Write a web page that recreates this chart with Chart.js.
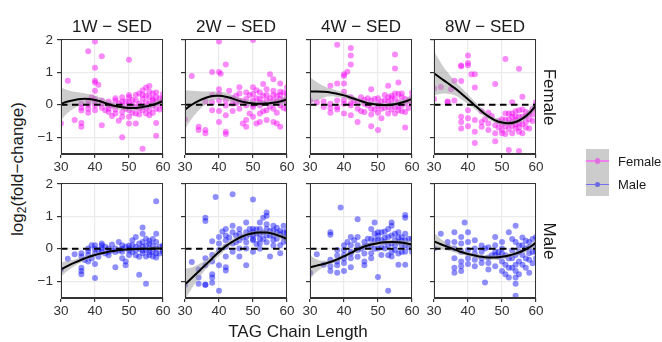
<!DOCTYPE html>
<html><head><meta charset="utf-8">
<script src="https://cdn.jsdelivr.net/npm/chart.js@4.4.1/dist/chart.umd.min.js"></script>
<style>
body{margin:0;width:662px;height:342px;background:#fff;position:relative;overflow:hidden;font-family:'Liberation Sans',Arial,sans-serif;}
canvas{position:absolute;}
.t{position:absolute;white-space:nowrap;color:#1a1a1a;line-height:1;}
.lg{position:absolute;}
</style></head><body>
<script>
const F = "'Liberation Sans', Arial, sans-serif";
const xTicks = [30,40,50,60];
const yTicks = [-1,0,1,2];
const facetTitles = ['1W \u2212 SED','2W \u2212 SED','4W \u2212 SED','8W \u2212 SED'];
const sexLabels = ['Female','Male'];
const fitX = [30,32,34,36,38,40,42,44,46,48,50,52,54,56,58,60];

// ---- Female points ----
const femalePts1W = [[30,-0.58],[32,0.74],[34,-0.47],[36,-0.68],[36,-0.56],[36,-0.09],[36,0.03],[38,0.13],[38,-0.12],[38,0.0],[38,1.65],[39,0.23],[40,1.95],[40,1.14],[40,0.74],[40,0.69],[40,0.43],[40,0.18],[40,-0.02],[40,-0.17],[41,0.62],[42,1.5],[42,-0.63],[42,-0.09],[42,0.03],[42,0.13],[43,-0.17],[44,-0.02],[44,-0.22],[44,-0.12],[45,-0.02],[46,-0.27],[46,-0.15],[46,0.13],[47,-0.49],[48,-1.0],[48,0.23],[48,-0.02],[48,-0.22],[48,-0.37],[49,-0.12],[50,1.39],[50,0.23],[50,0.08],[50,-0.02],[50,-0.17],[50,-0.37],[50,-0.58],[51,-0.02],[52,0.13],[52,-0.58],[52,-0.07],[52,-0.27],[53,0.35],[53,0.03],[54,0.45],[54,0.18],[54,-0.02],[54,-0.17],[54,-1.36],[55,0.53],[55,0.28],[55,0.08],[55,-0.09],[56,0.58],[56,0.23],[56,0.03],[56,-0.17],[56,-0.32],[57,0.13],[57,-0.02],[57,-0.25],[58,0.23],[58,0.08],[58,-0.12],[58,-0.56],[58,-0.96],[59,0.03],[60,0.33],[60,0.13],[60,-0.07],[47,0.05],[49,0.1],[51,-0.25],[53,-0.12],[55,-0.27],[57,0.18],[59,-0.15],[46,0.2],[44,0.1],[52,0.3],[56,0.4],[58,0.38],[60,0.2],[54,0.3],[50,0.3],[48,0.1],[36,-0.18],[38,-0.25],[40,0.1],[53,-0.3],[57,0.35],[59,0.2],[45,-0.35],[51,0.15]];
const femalePts2W = [[30,-0.45],[32,0.89],[34,-0.68],[34,-0.78],[36,-0.78],[36,-0.88],[38,1.01],[38,0.08],[38,-0.17],[40,1.95],[40,1.01],[40.5,0.96],[40,0.48],[40,0.33],[40,0.13],[40,-0.19],[40,-0.53],[42,1.24],[42,-0.83],[42,-0.9],[42,0.13],[42,-0.02],[42,-0.32],[43,0.43],[44,0.03],[44,-0.19],[45,0.28],[46,0.54],[46,0.13],[46,-0.12],[47,-0.58],[48,0.18],[48,-0.02],[48,-0.68],[48,-0.47],[49,-0.27],[50,0.54],[50,0.33],[50,0.13],[50,-0.07],[50,-0.37],[50,2.0],[51,-0.58],[52,0.38],[52,0.18],[52,-0.02],[52,-0.27],[52,-0.53],[53,0.64],[53,0.28],[54,0.48],[54,0.13],[54,-0.17],[54,-0.47],[55,0.94],[56,0.79],[56,0.43],[56,0.13],[56,-0.12],[56,-0.53],[57,-0.58],[57,0.28],[58,0.66],[58,0.18],[58,-0.02],[58,-0.68],[59,0.38],[59,0.13],[60,0.54],[60,0.23],[60,0.03],[44,0.2],[46,0.35],[48,0.38],[50,0.0],[51,0.2],[52,0.08],[53,0.05],[54,0.3],[55,0.2],[55,-0.05],[56,0.3],[57,0.1],[58,0.4],[59,-0.1],[60,-0.15],[47,0.1],[49,0.3],[45,0.05],[53,-0.2],[57,-0.25],[51,0.45],[58,0.3],[60,0.35],[38,0.3],[36,0.1]];
const femalePts4W = [[30,0.13],[32,0.08],[34,-0.07],[36,0.59],[36,0.03],[36,-0.25],[38,1.85],[38,0.66],[38,0.13],[38,-0.07],[40,0.94],[40,0.66],[40,0.89],[41,1.02],[40,0.03],[40,-0.27],[42,1.75],[42,1.52],[42,1.24],[42,0.23],[42,-0.02],[42,-0.32],[43,0.13],[44,-0.12],[44,-0.53],[45,0.23],[46,0.03],[46,-0.22],[47,-0.02],[48,0.48],[48,0.13],[48,-0.12],[48,-0.66],[49,0.18],[50,0.03],[50,-0.25],[50,-0.78],[51,-0.12],[51,-0.42],[52,0.13],[53,0.59],[53,0.23],[53,-0.07],[53,-0.27],[54,0.28],[54,0.03],[55,1.55],[55,1.12],[55,0.18],[55,-0.07],[55,-0.27],[56,0.69],[56,0.33],[56,0.08],[56,-0.17],[57,0.23],[57,-0.02],[58,-0.7],[58,0.18],[58,-0.22],[59,0.13],[60,0.23],[60,0.03],[36,-0.1],[38,-0.15],[40,0.15],[42,0.05],[44,0.1],[46,0.15],[48,-0.3],[50,0.2],[50,-0.05],[52,-0.1],[52,0.3],[54,-0.15],[54,0.2],[56,-0.05],[57,0.35],[58,0.05],[59,-0.1],[60,0.38],[51,0.1],[53,0.1],[55,0.35],[57,-0.2],[49,-0.15],[47,0.2],[45,-0.2],[34,0.1],[40,0.4]];
const femalePts8W = [[30,0.5],[30,0.18],[32,0.55],[34,0.1],[34,0.08],[35,0.48],[36,0.13],[36,0.74],[38,1.19],[38,1.21],[38,0.73],[38,-0.37],[38,-0.53],[38,-0.73],[40,1.52],[40,1.29],[40,1.22],[40,-0.17],[40,-0.42],[40,-0.66],[41,0.94],[42,0.94],[42,0.53],[42,-0.83],[42,-0.47],[42,-1.18],[44,-0.53],[44,-0.68],[46,-0.58],[46,-0.78],[48,0.64],[48,-0.63],[48,-0.88],[48,-1.13],[50,-0.78],[50,-0.88],[51,1.41],[51,-0.66],[51,-0.47],[52,-0.58],[52,-1.4],[52,-0.27],[53,-0.37],[53,-0.27],[53,0.08],[53,-0.88],[54,-0.47],[54,-0.73],[55,1.11],[55,-0.17],[55,-0.58],[55,-1.43],[55,-0.83],[56,0.25],[56,-0.37],[56,-0.88],[57,-0.22],[57,-0.53],[58,-0.27],[58,-0.73],[59,-0.12],[60,-0.02],[60,0.08],[54,-0.37],[51,-0.27],[53,-0.53],[55,-0.37],[49,-0.5],[50,-0.45],[52,-0.75],[54,-0.6],[56,-0.6],[57,-0.35],[58,-0.45],[59,-0.3],[60,-0.15],[47,-0.35],[45,-0.45],[49,-0.7],[51,-0.9],[53,-0.65],[55,-0.7],[57,-0.7],[59,-0.5],[50,-0.6],[52,-0.45],[54,-0.2],[56,-0.15],[44,-0.2],[46,-0.25]];

// ---- Male points ----
const malePts1W = [[30,-0.64],[32,-0.31],[34,-0.17],[36,-0.14],[36,-0.24],[36,-0.59],[36,-0.69],[36,-0.79],[38,0.01],[38,-0.07],[38,-0.19],[38,-0.39],[39,0.11],[40,0.11],[40,-0.01],[40,-0.14],[40,-0.47],[40,-0.9],[41,-0.04],[42,0.11],[42,0.01],[42,-0.09],[42,0.16],[43,0.06],[44,0.01],[44,-0.09],[45,0.13],[46,0.01],[46,-0.57],[47,0.21],[48,0.11],[48,-0.09],[48,-0.29],[49,0.06],[49,-0.39],[49,-0.51],[50,0.01],[50,-0.19],[51,0.11],[51,0.26],[52,0.06],[52,0.36],[52,-0.04],[53,0.16],[53,-0.8],[54,0.66],[54,0.46],[54,0.21],[54,0.06],[54,-0.14],[55,0.31],[55,-0.04],[55,-0.24],[56,0.16],[56,0.01],[56,-0.19],[57,0.11],[57,-0.09],[57,-0.24],[55,-1.08],[58,0.46],[58,0.21],[58,0.01],[58,-0.14],[58,-0.27],[58,1.47],[59,0.06],[60,0.11],[60,-0.04],[44,-0.2],[46,-0.1],[47,-0.05],[48,0.0],[50,0.1],[51,-0.1],[52,-0.2],[53,0.0],[54,-0.05],[55,0.1],[56,-0.1],[57,0.3],[59,-0.15],[60,0.05],[45,-0.05],[43,-0.15],[41,-0.25],[39,-0.3],[37,-0.35],[50,-0.05],[56,0.25],[53,-0.25],[60,-0.1]];
const malePts2W = [[30,-1.12],[32,-0.41],[34,-0.64],[34,-0.89],[34,-1.08],[36,0.96],[36,0.86],[36,-0.29],[36,-0.51],[36,-1.1],[36,-1.12],[38,0.23],[38,-0.19],[38,-0.39],[38,-0.79],[38,-0.89],[38,-1.05],[39,1.6],[40,0.36],[40,0.16],[40,-0.04],[40,-0.51],[40,-1.3],[41,0.53],[42,0.61],[42,0.41],[42,0.26],[42,0.06],[42,-0.24],[42,-0.57],[42,-0.67],[44,1.68],[44,0.71],[44,0.51],[44,0.16],[44,-0.09],[45,0.41],[46,0.61],[46,0.46],[46,0.26],[46,0.01],[46,-0.24],[48,0.81],[48,0.51],[48,0.36],[48,0.01],[48,-0.51],[49,0.61],[50,1.52],[50,0.61],[50,0.51],[50,0.41],[50,0.26],[50,-0.09],[51,0.46],[52,0.81],[52,0.61],[52,0.46],[52,0.31],[52,0.16],[53,0.96],[54,1.12],[54,1.02],[54,0.76],[54,0.61],[54,0.41],[55,-0.24],[56,0.71],[56,0.56],[56,0.41],[56,0.26],[57,0.51],[57,0.31],[58,0.11],[58,-0.14],[59,0.71],[59,0.51],[59,0.36],[59,0.21],[60,0.46],[60,0.36],[48,0.2],[50,0.3],[51,0.6],[53,0.5],[53,0.3],[55,0.55],[55,0.4],[57,0.65],[58,0.45],[60,0.25],[47,0.35],[45,0.2],[43,0.35],[49,0.45],[52,0.0],[56,0.1],[58,0.55],[54,0.2],[51,0.15],[60,0.55]];
const malePts4W = [[30,-0.74],[32,-0.17],[34,-0.49],[36,0.51],[36,0.43],[36,-0.34],[36,-0.54],[36,-0.69],[38,-0.04],[38,-0.21],[38,-0.39],[38,-0.51],[38,-0.74],[39,1.27],[40,0.11],[40,-0.04],[40,-0.19],[40,-0.44],[40,-0.69],[41,0.21],[42,0.36],[42,0.11],[42,-0.09],[42,-0.29],[42,-0.57],[43,0.26],[44,0.91],[44,0.36],[44,0.11],[44,-0.04],[46,0.21],[46,0.06],[46,-0.39],[46,-0.51],[47,0.31],[48,0.61],[48,0.11],[48,-0.14],[48,-0.29],[49,0.81],[49,0.46],[49,0.26],[50,0.51],[50,0.26],[50,0.01],[50,-0.87],[51,0.51],[51,0.26],[51,-0.19],[52,0.53],[52,0.21],[52,0.01],[53,-1.3],[53,0.61],[53,0.36],[54,0.81],[54,0.71],[54,0.41],[54,0.16],[54,-0.09],[54,-0.24],[55,0.46],[55,0.26],[55,-0.04],[56,0.51],[56,0.21],[56,-0.49],[57,0.36],[57,0.11],[58,1.04],[58,0.96],[58,0.46],[58,0.26],[58,0.11],[58,-0.09],[58,-0.49],[59,0.31],[60,0.11],[60,-0.09],[45,0.0],[47,0.1],[49,0.0],[51,0.05],[53,0.1],[55,0.1],[57,0.25],[59,0.05],[52,0.35],[56,0.35],[50,0.4],[48,0.3],[46,-0.15],[44,-0.25],[42,-0.15],[40,-0.3],[56,-0.15],[60,0.3],[57,-0.1],[53,-0.2]];
const malePts8W = [[30,0.01],[32,0.46],[34,0.21],[34,0.06],[36,0.51],[36,0.21],[36,0.01],[36,-0.29],[36,-0.74],[36,-0.59],[38,0.36],[38,0.16],[38,-0.09],[38,-0.39],[38,-0.54],[38,-0.69],[39,0.81],[40,0.51],[40,0.21],[40,-0.04],[40,-0.29],[40,-0.47],[42,0.26],[42,-0.34],[42,-0.54],[42,0.01],[44,-0.09],[44,-0.29],[44,-0.44],[45,-1.04],[45,0.01],[46,-0.27],[46,-0.44],[46,-0.64],[48,0.36],[48,0.11],[48,-0.19],[48,-0.54],[49,-0.24],[50,0.01],[50,-0.39],[50,-0.69],[51,-0.49],[51,-0.79],[52,-0.59],[52,-0.89],[53,-0.29],[53,-0.59],[54,0.21],[54,-0.19],[54,-0.49],[54,-0.69],[54,-0.89],[55,-0.09],[55,-0.39],[55,-0.79],[56,0.11],[56,-0.19],[56,-0.49],[52,0.51],[57,0.01],[57,-0.59],[58,0.21],[58,-0.14],[58,-0.34],[58,-0.74],[54,-1.45],[54,-1.08],[60,0.11],[60,0.36],[60,-0.09],[60,-0.29],[54,0.71],[50,0.21],[48,-0.09],[47,-0.2],[49,-0.1],[51,-0.2],[53,-0.05],[55,0.1],[57,0.25],[59,0.3],[59,-0.1],[56,0.35],[58,0.05],[52,-0.3],[50,-0.15],[46,0.05],[44,0.1],[42,-0.15],[53,0.3],[57,-0.3],[59,-0.45]];

// ---- Smooth fits (read at fitX) ----
const femaleFit1W = [0.03,0.1,0.15,0.18,0.18,0.15,0.09,0.02,-0.04,-0.08,-0.1,-0.1,-0.07,-0.03,0.03,0.12];
const femaleUp1W  = [0.53,0.45,0.40,0.37,0.33,0.28,0.21,0.12,0.05,0.0,-0.02,-0.02,0.01,0.05,0.12,0.24];
const femaleLo1W  = [-0.47,-0.25,-0.10,-0.01,0.03,0.02,-0.03,-0.08,-0.13,-0.16,-0.18,-0.18,-0.15,-0.11,-0.06,0.0];
const femaleFit2W = [-0.15,0.0,0.12,0.21,0.27,0.28,0.25,0.19,0.12,0.07,0.04,0.03,0.04,0.06,0.1,0.16];
const femaleUp2W  = [0.45,0.43,0.42,0.41,0.41,0.4,0.37,0.3,0.22,0.16,0.12,0.11,0.12,0.15,0.2,0.29];
const femaleLo2W  = [-0.75,-0.43,-0.18,0.01,0.13,0.16,0.13,0.08,0.02,-0.02,-0.04,-0.05,-0.04,-0.03,0.0,0.03];
const femaleFit4W = [0.41,0.41,0.4,0.38,0.34,0.29,0.22,0.15,0.08,0.03,0.0,-0.01,0.0,0.04,0.1,0.18];
const femaleUp4W  = [0.85,0.7,0.58,0.5,0.44,0.38,0.3,0.22,0.15,0.1,0.07,0.06,0.07,0.12,0.19,0.3];
const femaleLo4W  = [0.05,0.12,0.22,0.26,0.24,0.2,0.14,0.08,0.01,-0.04,-0.07,-0.08,-0.07,-0.04,0.01,0.06];
const femaleFit8W = [0.97,0.82,0.67,0.52,0.35,0.17,-0.02,-0.2,-0.36,-0.48,-0.55,-0.57,-0.53,-0.43,-0.26,-0.02];
const femaleUp8W  = [1.65,1.3,1.0,0.75,0.53,0.32,0.1,-0.1,-0.27,-0.4,-0.47,-0.49,-0.45,-0.34,-0.15,0.12];
const femaleLo8W  = [0.29,0.34,0.34,0.29,0.17,0.02,-0.14,-0.3,-0.45,-0.56,-0.63,-0.65,-0.61,-0.52,-0.37,-0.16];
const maleFit1W = [-0.64,-0.53,-0.43,-0.34,-0.26,-0.19,-0.14,-0.09,-0.06,-0.03,-0.02,-0.01,0.0,0.0,0.01,0.01];
const maleUp1W  = [-0.42,-0.38,-0.33,-0.27,-0.2,-0.14,-0.09,-0.05,-0.02,0.01,0.02,0.03,0.04,0.05,0.06,0.08];
const maleLo1W  = [-0.86,-0.68,-0.53,-0.41,-0.32,-0.24,-0.19,-0.13,-0.1,-0.07,-0.06,-0.05,-0.04,-0.05,-0.04,-0.06];
const maleFit2W = [-1.1,-0.9,-0.7,-0.5,-0.3,-0.1,0.08,0.22,0.34,0.43,0.48,0.5,0.5,0.46,0.39,0.3];
const maleUp2W  = [-0.62,-0.58,-0.48,-0.35,-0.18,0.02,0.18,0.31,0.42,0.5,0.55,0.57,0.57,0.54,0.49,0.43];
const maleLo2W  = [-1.58,-1.22,-0.92,-0.65,-0.42,-0.22,-0.02,0.13,0.26,0.36,0.41,0.43,0.43,0.38,0.29,0.17];
const maleFit4W = [-0.57,-0.52,-0.47,-0.41,-0.33,-0.23,-0.13,-0.02,0.07,0.13,0.17,0.2,0.21,0.2,0.17,0.13];
const maleUp4W  = [-0.2,-0.33,-0.37,-0.34,-0.26,-0.16,-0.06,0.05,0.14,0.2,0.24,0.27,0.28,0.28,0.26,0.25];
const maleLo4W  = [-0.94,-0.71,-0.57,-0.48,-0.4,-0.3,-0.2,-0.09,0.0,0.06,0.1,0.13,0.14,0.12,0.08,0.01];
const maleFit8W = [0.23,0.14,0.06,-0.02,-0.1,-0.16,-0.21,-0.25,-0.27,-0.27,-0.25,-0.21,-0.15,-0.07,0.04,0.19];
const maleUp8W  = [0.5,0.3,0.17,0.07,-0.02,-0.09,-0.14,-0.18,-0.2,-0.2,-0.18,-0.14,-0.08,0.01,0.12,0.3];
const maleLo8W  = [-0.04,-0.02,-0.05,-0.11,-0.18,-0.23,-0.28,-0.32,-0.34,-0.34,-0.32,-0.28,-0.22,-0.15,-0.04,0.08];

const femaleColor = 'rgba(245,0,245,0.46)';
const maleColor = 'rgba(0,0,245,0.44)';

const panels = [
  {row:0,col:0,pts:femalePts1W,fit:femaleFit1W,up:femaleUp1W,lo:femaleLo1W,color:femaleColor},
  {row:0,col:1,pts:femalePts2W,fit:femaleFit2W,up:femaleUp2W,lo:femaleLo2W,color:femaleColor},
  {row:0,col:2,pts:femalePts4W,fit:femaleFit4W,up:femaleUp4W,lo:femaleLo4W,color:femaleColor},
  {row:0,col:3,pts:femalePts8W,fit:femaleFit8W,up:femaleUp8W,lo:femaleLo8W,color:femaleColor},
  {row:1,col:0,pts:malePts1W,fit:maleFit1W,up:maleUp1W,lo:maleLo1W,color:maleColor},
  {row:1,col:1,pts:malePts2W,fit:maleFit2W,up:maleUp2W,lo:maleLo2W,color:maleColor},
  {row:1,col:2,pts:malePts4W,fit:maleFit4W,up:maleUp4W,lo:maleLo4W,color:maleColor},
  {row:1,col:3,pts:malePts8W,fit:maleFit8W,up:maleUp8W,lo:maleLo8W,color:maleColor},
];

// layout
const colLeft = [61,185,310,434];
const panelW = 102;
const rowTop = [39,183];
const panelH = 115;
const AX_L = 30, PAD_T = 8, PAD_R = 10, AX_B = 24;

const frame = {
  id:'frame',
  afterDraw(c){
    const a = c.chartArea, ctx = c.ctx;
    ctx.save();
    ctx.strokeStyle = '#333'; ctx.lineWidth = 1;
    ctx.strokeRect(Math.round(a.left)+0.5, Math.round(a.top)+0.5, Math.round(a.right-a.left)-1, Math.round(a.bottom-a.top)-1);
    ctx.restore();
  }
};

panels.forEach(p => {
  const cv = document.createElement('canvas');
  const W = AX_L + panelW + PAD_R, H = PAD_T + panelH + AX_B;
  cv.width = W; cv.height = H;
  cv.style.left = (colLeft[p.col] - AX_L) + 'px';
  cv.style.top = (rowTop[p.row] - PAD_T) + 'px';
  cv.style.width = W + 'px'; cv.style.height = H + 'px';
  document.body.appendChild(cv);
  const xy = arr => fitX.map((x,i) => ({x, y:arr[i]}));
  new Chart(cv, {
    type:'scatter',
    data:{datasets:[
      {data:p.pts.map(([x,y])=>({x,y})), pointRadius:3, pointBackgroundColor:p.color, pointBorderWidth:0, backgroundColor:p.color, borderWidth:0, order:4, clip:0},
      {data:xy(p.up), showLine:true, pointRadius:0, borderColor:'rgba(0,0,0,0)', borderWidth:1, backgroundColor:'rgba(153,153,153,0.5)', fill:'+1', tension:0.4, order:3, clip:0},
      {data:xy(p.lo), showLine:true, pointRadius:0, borderColor:'rgba(0,0,0,0)', borderWidth:1, fill:false, tension:0.4, order:3, clip:0},
      {data:xy(p.fit), showLine:true, pointRadius:0, borderColor:'#000', borderWidth:2, fill:false, tension:0.4, order:2, clip:0},
      {data:[{x:30,y:0},{x:60,y:0}], showLine:true, pointRadius:0, borderColor:'#000', borderWidth:1.8, borderDash:[6.5,4.5], fill:false, order:1, clip:0}
    ]},
    options:{
      responsive:false, animation:false, devicePixelRatio:1,
      layout:{padding:{left:0,top:PAD_T,right:PAD_R,bottom:0}},
      plugins:{legend:{display:false}, tooltip:{enabled:false}},
      scales:{
        x:{type:'linear', min:30, max:60,
          afterBuildTicks: s => { s.ticks = xTicks.map(v=>({value:v})); },
          afterFit: s => { s.height = AX_B; s.paddingLeft = 0; s.paddingRight = 0; },
          ticks:{font:{family:F,size:13.5}, color:'#333', padding:1, maxRotation:0, autoSkip:false, callback:v=>String(v)},
          grid:{color:'#ebebeb', lineWidth:1.2, tickLength:4, tickColor:'#333', drawTicks:true},
          border:{display:true, color:'#333', width:1}
        },
        y:{type:'linear', min:-1.52, max:2.03,
          afterBuildTicks: s => { s.ticks = yTicks.map(v=>({value:v})); },
          afterFit: s => { s.width = AX_L; s.paddingTop = 0; s.paddingBottom = 0; },
          ticks:{display:p.col===0, font:{family:F,size:13.5}, color:'#333', padding:4, callback:v => v<0 ? '\u2212'+Math.abs(v) : String(v)},
          grid:{color:'#ebebeb', lineWidth:1.2, tickLength:4, tickColor:'#333', drawTicks:true},
          border:{display:true, color:'#333', width:1}
        }
      }
    },
    plugins:[frame]
  });
});

function addText(html, cx, cy, size, rot){
  const d = document.createElement('div');
  d.className = 't';
  d.innerHTML = html;
  d.style.fontSize = size + 'px';
  d.style.left = cx + 'px'; d.style.top = cy + 'px';
  d.style.transform = 'translate(-50%,-50%)' + (rot ? ' rotate(' + rot + 'deg)' : '');
  document.body.appendChild(d);
}
facetTitles.forEach((t,i) => addText(t, colLeft[i] + panelW/2, 26, 17, 0));
addText(sexLabels[0], 549, rowTop[0] + panelH/2, 17, 90);
addText(sexLabels[1], 549, rowTop[1] + panelH/2, 17, 90);
addText('TAG Chain Length', 298, 331, 17, 0);
addText('log<sub style="font-size:12px;vertical-align:-3px">2</sub>(fold\u2212change)', 17.5, 169, 17, -90);

// legend
const legendItems = [{label:'Female', line:'#ee80ee', pt:'#e070e0'},{label:'Male', line:'#7070f0', pt:'#6a6ae0'}];
const lg = document.createElement('div');
lg.className = 'lg';
lg.style.cssText = 'left:586px;top:149px;width:23px;height:47px;background:#cccccc;';
document.body.appendChild(lg);
legendItems.forEach((it,i) => {
  const cy = 161 + i*23.3;
  const ln = document.createElement('div');
  ln.style.cssText = `position:absolute;left:586px;width:23px;top:${cy-0.6}px;height:1.2px;background:${it.line};`;
  document.body.appendChild(ln);
  const dot = document.createElement('div');
  dot.style.cssText = `position:absolute;left:${597.5-2.7}px;top:${cy-2.7}px;width:5.4px;height:5.4px;border-radius:50%;background:${it.pt};`;
  document.body.appendChild(dot);
  const tx = document.createElement('div');
  tx.className = 't';
  tx.style.cssText = `left:618px;top:${cy}px;font-size:13px;transform:translateY(-50%);color:#1a1a1a;`;
  tx.textContent = it.label;
  document.body.appendChild(tx);
});
</script>
</body></html>
